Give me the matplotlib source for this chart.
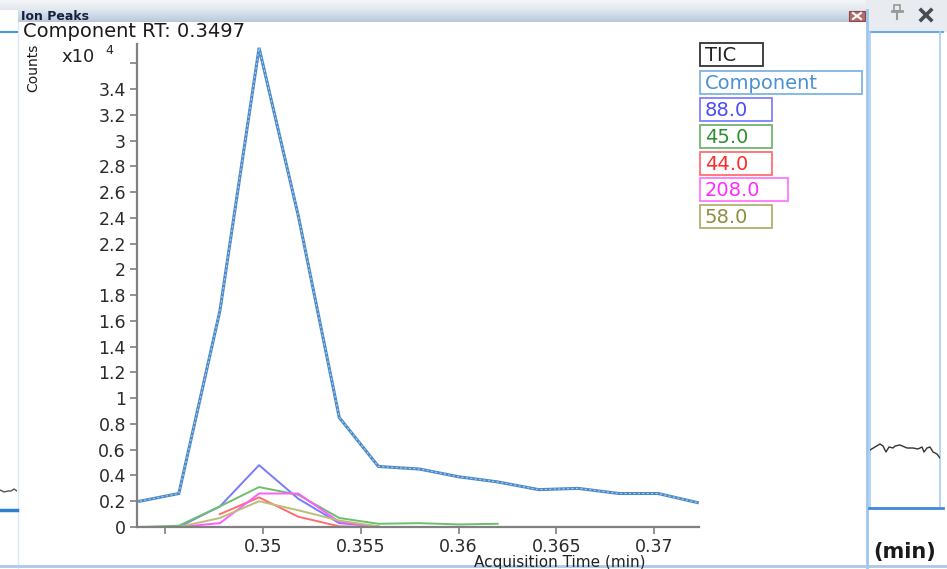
import numpy as np
import matplotlib
matplotlib.use("Agg")
import matplotlib.pyplot as plt
from matplotlib.patches import Rectangle

plt.rcParams['font.family'] = ['DejaVu Sans']

# --- data (counts in units of 10^4) ---
times = [0.3437, 0.3457, 0.3478, 0.3498, 0.3518, 0.3539, 0.3559, 0.3580,
         0.3600, 0.3620, 0.3641, 0.3661, 0.3682, 0.3702, 0.3722]
component = [0.20, 0.26, 1.68, 3.72, 2.42, 0.85, 0.47, 0.45,
             0.39, 0.35, 0.29, 0.30, 0.26, 0.26, 0.19]
tic = [0.20, 0.26, 1.68, 3.72, 2.42, 0.85, 0.47, 0.45,
       0.39, 0.35, 0.29, 0.30, 0.26, 0.26, 0.19]

# ion traces, each starts at a given index of times
ion_88 = [0.0, 0.0, 0.16, 0.48, 0.22, 0.03, 0.005]
ion_45 = [0.0, 0.01, 0.16, 0.31, 0.25, 0.07, 0.025, 0.03, 0.02, 0.025]
ion_44 = [0.10, 0.23, 0.08, 0.005, 0.0, 0.0]
ion_208 = [0.0, 0.03, 0.26, 0.26, 0.04, 0.0]
ion_58 = [0.0, 0.07, 0.20, 0.13, 0.05, 0.005]
ion_start = {'88.0': 0, '45.0': 0, '44.0': 2, '208.0': 1, '58.0': 1}

yticks = [0, 0.2, 0.4, 0.6, 0.8, 1, 1.2, 1.4, 1.6, 1.8, 2, 2.2, 2.4, 2.6,
          2.8, 3, 3.2, 3.4, 3.6]
xticks = [0.345, 0.35, 0.355, 0.36, 0.365, 0.37]
xticklabels = ['', '0.35', '0.355', '0.36', '0.365', '0.37']

# neighbouring panel trace (background window)
bg_x = [0, 5, 10, 13, 16, 19, 23, 25, 30, 37, 43, 48, 52, 54, 57, 60, 63, 67, 70]
bg_counts = [8, 11, 14, 12, 6, 11, 10, 12, 13, 10, 10, 9, 11, 6, 10, 11, 6, 4, 0]
left_x = [0, 4, 8, 11, 14, 17]
left_counts = [2, 0, 1, 1, 3, 1]

W, H = 947, 569
fig = plt.figure(figsize=(W / 100, H / 100), dpi=100, facecolor='white')

# background / window decoration in pixel coordinates
bg = fig.add_axes([0, 0, 1, 1])
bg.set_xlim(0, W)
bg.set_ylim(H, 0)
bg.axis('off')

grad = np.linspace(0, 1, 20).reshape(-1, 1)
bg.imshow(grad, extent=(0, W, 10, 0), cmap=matplotlib.colors.LinearSegmentedColormap.from_list(
    'top', ['#f4f6f9', '#e3e8ee']), aspect='auto', zorder=0)
bg.add_patch(Rectangle((866, 0), 81, 31, color='#e8ecf1', zorder=0))
bg.imshow(grad, extent=(18, 866, 22, 10), cmap=matplotlib.colors.LinearSegmentedColormap.from_list(
    'bar', ['#dde6f0', '#b9c9db']), aspect='auto', zorder=1)
bg.text(21, 16.5, 'Ion Peaks', fontsize=9, fontweight='bold', color='#18203a',
        va='center', ha='left', zorder=2)
# close button in title bar
bg.add_patch(Rectangle((849, 11), 16, 10, facecolor='#b46a6a', edgecolor='#8a4a4a', lw=0.8, zorder=2))
bg.plot([853, 861], [13, 19], color='white', lw=1.5, zorder=3)
bg.plot([853, 861], [19, 13], color='white', lw=1.5, zorder=3)
# pin & close icons of the outer window
bg.plot([892, 902], [11, 11], color='#999999', lw=2, zorder=2)
bg.add_patch(Rectangle((894, 5), 6, 6, facecolor='none', edgecolor='#999999', lw=1.2, zorder=2))
bg.plot([897, 897], [11, 19], color='#999999', lw=1.5, zorder=2)
bg.plot([921, 931], [10, 20], color='#444c55', lw=2.6, zorder=2)
bg.plot([921, 931], [20, 10], color='#444c55', lw=2.6, zorder=2)

# white panel
bg.add_patch(Rectangle((18, 22), 848, 547, facecolor='white', edgecolor='none', zorder=1))
bg.plot([18, 18], [22, 569], color='#dce8f5', lw=1, zorder=2)
bg.plot([867, 867], [10, 569], color='#9fc6ec', lw=2, zorder=2)
# neighbouring panel on the right
bg.plot([870, 943], [32, 32], color='#6aa8e4', lw=1.5, zorder=2)
bg.plot([870, 870], [32, 508], color='#a9cdf0', lw=1.2, zorder=2)
bg.plot([940, 940], [32, 508], color='#a9cdf0', lw=1.2, zorder=2)
bg.plot([869, 943], [508, 508], color='#3f8ad8', lw=2, zorder=2)
bg.text(905, 552, '(min)', fontsize=15, fontweight='bold', color='#1a1a1a',
        ha='center', va='center', zorder=2)
# left strip
bg.plot([0, 17], [32, 32], color='#4a95e0', lw=1.5, zorder=2)
bg.plot([0, 17], [510, 510], color='#2f7fd0', lw=2.5, zorder=2)
bg.plot([0, W], [566, 566], color='#a9c9ea', lw=2, zorder=3)

# component RT / counts labels
bg.text(23, 31, 'Component RT: 0.3497', fontsize=14, color='#1a1a1a',
        ha='left', va='center', zorder=3)
bg.text(33, 68, 'Counts', fontsize=10, color='#1a1a1a', rotation=90,
        ha='center', va='center', zorder=3)
bg.text(61, 57, 'x10', fontsize=13, color='#222222', ha='left', va='center', zorder=3)
bg.text(105, 50, '4', fontsize=9, color='#222222', ha='left', va='center', zorder=3)
bg.text(560, 555, 'Acquisition Time (min)', fontsize=11, color='#222222',
        ha='center', va='top', zorder=3)

# legend boxes
legend = [('TIC', '#222222', '#333333', 63),
          ('Component', '#4a90d4', '#7db4e6', 162),
          ('88.0', '#4a4aff', '#8080ff', 72),
          ('45.0', '#2f8f2f', '#6fb56f', 72),
          ('44.0', '#ff2a2a', '#ff7070', 72),
          ('208.0', '#ff2aff', '#ff77ff', 88),
          ('58.0', '#8e8e40', '#b0b070', 72)]
box_top = [43, 71, 98, 125, 152, 178, 205]
for (label, tcol, ecol, w), top in zip(legend, box_top):
    bg.add_patch(Rectangle((700, top), w, 23, facecolor='white', edgecolor=ecol, lw=1.3, zorder=3))
    bg.text(705, top + 12, label, fontsize=14, color=tcol, ha='left', va='center', zorder=4)

# right neighbour trace
axr = fig.add_axes([870 / W, 1 - 508 / H, 70 / W, 476 / H])
axr.patch.set_alpha(0)
axr.plot(bg_x, bg_counts, color='#333333', lw=1)
axr.set_xlim(0, 70)
axr.set_ylim(-50, 426)
axr.axis('off')

axl = fig.add_axes([0, 1 - 508 / H, 17 / W, 476 / H])
axl.patch.set_alpha(0)
axl.plot(left_x, left_counts, color='#555555', lw=1)
axl.set_xlim(0, 17)
axl.set_ylim(-16, 460)
axl.axis('off')

# main chart
ax = fig.add_axes([137 / W, 1 - 527 / H, (699 - 137) / W, (527 - 44) / H])
ax.patch.set_alpha(0)
ax.set_zorder(5)

ion_series = [('88.0', ion_88, '#7a7aff'), ('45.0', ion_45, '#6cbf6c'),
              ('44.0', ion_44, '#ff6e6e'), ('208.0', ion_208, '#ff5cff'),
              ('58.0', ion_58, '#bdbd7a')]
for label, vals, col in ion_series:
    s = ion_start[label]
    ax.plot(times[s:s + len(vals)], vals, color=col, lw=1.4)

ax.plot(times, component, color='#4a88c7', lw=2.2, solid_joinstyle='miter')
ax.plot(times, tic, color='#a8cdee', lw=0.8, dashes=(2, 2))

ax.set_xlim(0.34356, 0.37229)
ax.set_ylim(0, 3.75)
ax.set_yticks(yticks)
ax.set_yticklabels(['%g' % v if v < 3.5 else '' for v in yticks])
ax.set_xticks(xticks)
ax.set_xticklabels(xticklabels)
for side in ['top', 'right']:
    ax.spines[side].set_visible(False)
for side in ['left', 'bottom']:
    ax.spines[side].set_color('#808080')
    ax.spines[side].set_linewidth(1.6)
ax.tick_params(axis='both', direction='out', length=5, width=1.2, color='#808080',
               labelsize=12.5, labelcolor='#2a2a2a', pad=3)

fig.savefig('out.png', dpi=100, facecolor='white')
